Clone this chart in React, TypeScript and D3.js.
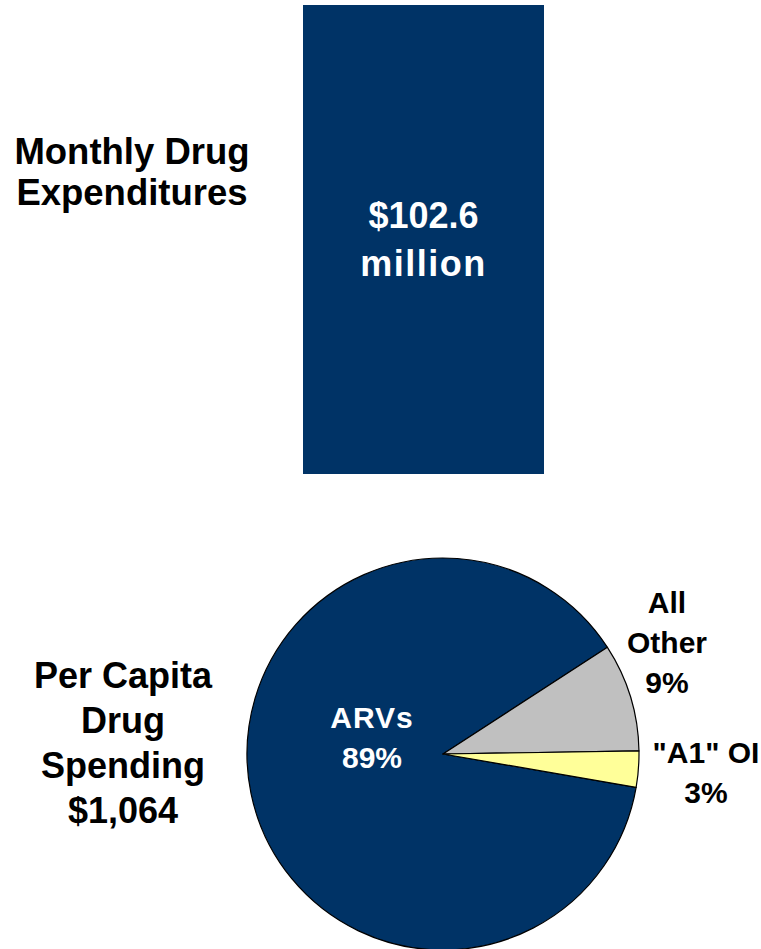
import React, { useRef, useEffect } from 'react'
import * as d3 from 'd3'

// monthly expenditures bar
const barCategories = ['Monthly Drug Expenditures']
const barValues = [102.6]
const barLabelLines = ['$102.6', 'million']
const barTitleLines = ['Monthly Drug', 'Expenditures']

// per capita spending pie
const pieCategories = ['ARVs', 'All Other', '"A1" OI']
const pieValues = [89, 9, 3]
const pieColors = ['#003366', '#C0C0C0', '#FFFF99']
const pieTitleLines = ['Per Capita', 'Drug', 'Spending', '$1,064']

const W = 761
const H = 949
const FONT = '"Liberation Sans", Arial, Helvetica, sans-serif'

const App: React.FC = () => {
  const svgRef = useRef<SVGSVGElement>(null)

  useEffect(() => {
    if (!svgRef.current) return
    const svg = d3.select(svgRef.current)
    svg.selectAll('*').remove()

    svg.append('rect').attr('width', W).attr('height', H).attr('fill', '#fff')

    // ---- bar ----
    const x = d3.scaleBand().domain(barCategories).range([303, 544]).padding(0)
    const y = d3.scaleLinear().domain([0, 102.6]).range([474, 5])

    svg.selectAll('.bar')
      .data(barValues)
      .enter()
      .append('rect')
      .attr('class', 'bar')
      .attr('x', (d, i) => x(barCategories[i])!)
      .attr('width', x.bandwidth())
      .attr('y', d => y(d))
      .attr('height', d => y(0) - y(d))
      .attr('fill', '#003366')

    const barText = svg.append('text')
      .attr('text-anchor', 'middle')
      .attr('font-family', FONT)
      .attr('font-weight', 'bold')
      .attr('font-size', 36)
      .attr('fill', '#fff')
    barLabelLines.forEach((line, i) => {
      barText.append('tspan')
        .attr('x', x(barCategories[0])! + x.bandwidth() / 2)
        .attr('y', 228 + i * 48)
        .attr('letter-spacing', i === 1 ? 1.5 : 0)
        .text(line)
    })

    const barTitle = svg.append('text')
      .attr('text-anchor', 'middle')
      .attr('font-family', FONT)
      .attr('font-weight', 'bold')
      .attr('font-size', 36.5)
      .attr('fill', '#000')
    barTitleLines.forEach((line, i) => {
      barTitle.append('tspan')
        .attr('x', 132)
        .attr('y', 164 + i * 41)
        .text(line)
    })

    // ---- pie ----
    const cx = 443
    const cy = 754
    const radius = 196

    const pie = d3.pie<number>()
      .value(d => d)
      .sort(null)
      .startAngle((99.8 * Math.PI) / 180)
      .endAngle((99.8 * Math.PI) / 180 + 2 * Math.PI)

    const arc = d3.arc<d3.PieArcDatum<number>>()
      .innerRadius(0)
      .outerRadius(radius)

    const g = svg.append('g').attr('transform', `translate(${cx},${cy})`)

    g.selectAll('.slice')
      .data(pie(pieValues))
      .enter()
      .append('path')
      .attr('class', 'slice')
      .attr('d', arc)
      .attr('fill', (d, i) => pieColors[i])
      .attr('stroke', '#000')
      .attr('stroke-width', 1.2)
      .attr('stroke-linejoin', 'round')

    // slice labels
    const sliceLabels = [
      { lines: [pieCategories[0], `${pieValues[0]}%`], x: 372, y: 728, gap: 40, fill: '#fff', ls: 1 },
      { lines: ['All', 'Other', `${pieValues[1]}%`], x: 667, y: 613, gap: 40, fill: '#000', ls: 0 },
      { lines: [pieCategories[2], `${pieValues[2]}%`], x: 706, y: 763, gap: 40, fill: '#000', ls: 0 }
    ]

    sliceLabels.forEach(lbl => {
      const t = svg.append('text')
        .attr('text-anchor', 'middle')
        .attr('font-family', FONT)
        .attr('font-weight', 'bold')
        .attr('font-size', 30)
        .attr('fill', lbl.fill)
      lbl.lines.forEach((line, i) => {
        t.append('tspan')
          .attr('x', lbl.x)
          .attr('y', lbl.y + i * lbl.gap)
          .attr('letter-spacing', i === 0 ? lbl.ls : 0)
          .text(line)
      })
    })

    const pieTitle = svg.append('text')
      .attr('text-anchor', 'middle')
      .attr('font-family', FONT)
      .attr('font-weight', 'bold')
      .attr('font-size', 36)
      .attr('fill', '#000')
    pieTitleLines.forEach((line, i) => {
      pieTitle.append('tspan')
        .attr('x', 123)
        .attr('y', 688 + i * 45)
        .text(line)
    })
  }, [])

  return (
    <svg
      ref={svgRef}
      width={W}
      height={H}
      style={{ position: 'absolute', left: 0, top: 0, display: 'block' }}
    />
  )
}

export default App
